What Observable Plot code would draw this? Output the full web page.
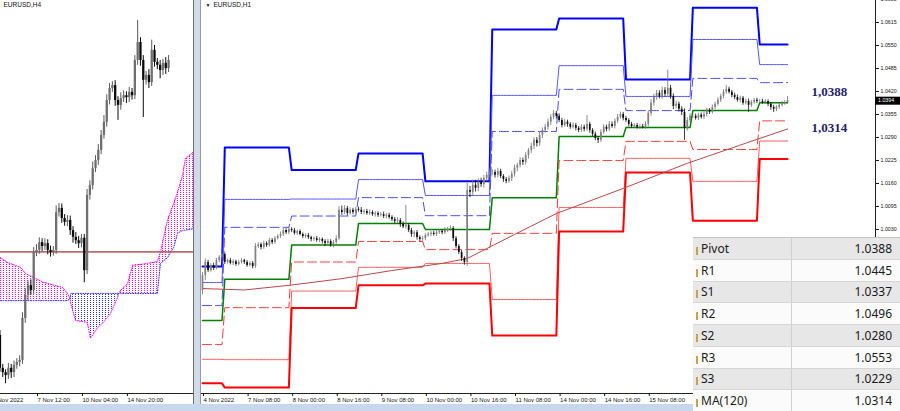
<!DOCTYPE html>
<html><head><meta charset="utf-8">
<script src="https://cdn.jsdelivr.net/npm/d3@7"></script>
<script src="https://cdn.jsdelivr.net/npm/@observablehq/plot@0.6"></script>
<style>
html,body{margin:0;padding:0;background:#fff;}
#wrap{position:relative;width:900px;height:411px;overflow:hidden;background:#fff;}
#left{position:absolute;left:0;top:0;width:193px;height:411px;overflow:hidden;}
#right{position:absolute;left:200px;top:0;width:700px;height:411px;overflow:hidden;}
#sep{position:absolute;left:193px;top:0;width:8px;height:411px;background:#cfdbe9;border-left:1px solid #707070;border-right:1px solid #9a9a9a;box-sizing:border-box;}
#strip{position:absolute;left:0;top:404px;width:900px;height:7px;background:#c6d7ee;}
#tbl{position:absolute;left:693px;top:237px;width:207px;height:174px;background:#fff;border-top:1px solid #c4c4c4;font-family:"Noto Sans","Open Sans",sans-serif;font-size:12px;color:#1a1a1a;}
.row{position:absolute;left:0;width:207px;height:21.75px;box-sizing:border-box;border-bottom:1px solid #d6d6d6;display:flex;align-items:center;}
.row .n{width:99px;height:100%;box-sizing:border-box;border-right:1px solid #d0d0d0;display:flex;align-items:center;padding-left:3px;}
.row .v{flex:1;text-align:right;padding-right:8px;}
.mk{display:inline-block;width:2px;height:8px;background:#c9a24a;margin-right:3px;margin-top:5px;}
svg{display:block;}
</style>
</head><body>
<div id="wrap">
  <div id="left"></div>
  <div id="right"></div>
  <div id="sep"></div>
  <div id="strip"></div>
  <div id="tbl"></div>
</div>
<script>
// ================= RIGHT PANEL (EURUSD H1) =================
// first bar of each trading day (bar index)
const dayStart = [0, 8, 32, 56, 80, 104, 128, 152, 176, 200];
// daily pivot levels per day
const R3 = [0.9925, 1.0262, 1.0198, 1.0245, 1.0166, 1.0595, 1.0626, 1.0454, 1.0657, 1.0553];
const R2 = [0.9880, 1.0115, 1.0116, 1.0171, 1.0126, 1.0409, 1.0493, 1.0406, 1.0567, 1.0496];
const R1 = [0.9815, 1.0036, 1.0068, 1.0120, 1.0069, 1.0307, 1.0426, 1.0366, 1.0457, 1.0445];
const PV = [0.9773, 0.9889, 0.9986, 1.0047, 1.0030, 1.0120, 1.0293, 1.0318, 1.0366, 1.0388];
const S1 = [0.9705, 0.9809, 0.9938, 0.9996, 0.9973, 1.0019, 1.0225, 1.0279, 1.0256, 1.0337];
const S2 = [0.9663, 0.9662, 0.9856, 0.9923, 0.9934, 0.9832, 1.0092, 1.0231, 1.0166, 1.0280];
const S3 = [0.9595, 0.9583, 0.9808, 0.9872, 0.9877, 0.9730, 1.0024, 1.0191, 1.0055, 1.0229];

const firstOpen = 0.9857;
const closeH1 = [
0.9900,0.9937,0.9914,0.9928,0.9920,0.9942,0.9951,0.9959,
0.9937,0.9942,0.9934,0.9939,0.9931,0.9937,0.9942,0.9937,0.9928,0.9934,0.9925,0.9982,0.9987,0.9979,0.9990,0.9985,0.9999,0.9993,1.0004,1.0010,1.0016,1.0027,1.0021,1.0030,
1.0027,1.0019,1.0024,1.0016,1.0010,1.0013,1.0007,1.0002,1.0004,0.9999,1.0002,0.9996,0.9990,0.9996,0.9987,0.9993,1.0004,1.0084,1.0078,1.0089,1.0075,1.0084,1.0078,1.0087,
1.0084,1.0078,1.0081,1.0075,1.0078,1.0072,1.0075,1.0070,1.0072,1.0067,1.0070,1.0064,1.0058,1.0053,1.0055,1.0044,1.0038,1.0041,1.0027,1.0016,1.0021,1.0007,1.0002,1.0004,
1.0013,1.0016,1.0019,1.0016,1.0021,1.0024,1.0021,1.0027,1.0030,1.0033,1.0004,0.9982,0.9965,0.9948,0.9937,1.0140,1.0135,1.0155,1.0146,1.0163,1.0157,1.0174,1.0183,1.0191,
1.0191,1.0183,1.0194,1.0180,1.0171,1.0166,1.0174,1.0186,1.0203,1.0211,1.0225,1.0220,1.0239,1.0253,1.0265,1.0282,1.0273,1.0296,1.0310,1.0319,1.0333,1.0347,1.0358,1.0350,
1.0338,1.0324,1.0333,1.0327,1.0319,1.0324,1.0316,1.0310,1.0319,1.0313,1.0327,1.0310,1.0299,1.0287,1.0282,1.0304,1.0319,1.0313,1.0327,1.0321,1.0336,1.0347,1.0355,1.0344,
1.0338,1.0327,1.0321,1.0324,1.0319,1.0321,1.0319,1.0327,1.0358,1.0387,1.0403,1.0415,1.0406,1.0423,1.0412,1.0429,1.0406,1.0378,1.0384,1.0370,1.0361,1.0316,1.0338,1.0350,
1.0350,1.0344,1.0353,1.0347,1.0355,1.0367,1.0361,1.0375,1.0384,1.0395,1.0406,1.0418,1.0426,1.0418,1.0409,1.0403,1.0395,1.0401,1.0387,1.0392,1.0381,1.0389,1.0395,1.0392,
1.0392,1.0389,1.0392,1.0384,1.0375,1.0370,1.0375,1.0381,1.0387,1.0389,1.0394
];
// wick lengths in pips above / below the body
const wickUpH1 = [
8,10,6,5,7,6,5,4,
5,4,6,5,4,5,6,4,5,4,5,8,6,5,7,5,6,5,6,5,7,6,5,6,
5,6,4,5,4,5,6,4,5,6,5,4,5,6,5,6,8,10,12,8,6,7,6,5,
6,8,5,6,7,5,6,5,6,7,5,6,5,6,8,6,7,57,5,6,5,6,5,6,
5,6,5,6,7,6,5,8,6,7,5,6,5,6,5,20,12,15,14,10,12,9,8,10,
8,7,9,6,5,6,7,8,9,6,8,7,8,6,9,7,8,10,7,8,9,7,8,6,
7,6,8,6,5,7,6,5,7,6,25,6,5,6,5,8,7,6,8,7,6,8,7,6,
6,5,6,5,6,5,6,7,8,10,9,8,7,9,8,51,8,7,8,6,7,10,8,7,
5,6,5,6,7,6,5,7,6,7,6,7,11,6,5,6,7,6,5,6,7,6,5,6,
5,6,5,4,5,6,5,6,5,6,12
];
const wickDnH1 = [
12,15,6,5,6,4,6,5,
6,5,4,6,5,4,5,6,5,4,6,5,6,7,5,6,5,6,5,4,5,6,5,6,
6,5,6,4,5,6,5,7,6,5,6,7,8,6,7,9,5,6,8,6,7,5,6,5,
5,6,7,5,6,5,7,6,5,6,7,5,6,7,6,8,6,7,6,8,9,7,8,6,
6,5,6,5,6,5,6,5,6,5,8,7,6,9,8,11,15,12,10,9,8,10,7,8,
9,8,7,6,8,7,6,9,8,10,7,9,8,10,8,9,10,8,9,7,8,9,7,8,
6,7,5,8,6,5,7,6,5,7,6,8,7,6,9,6,5,7,6,5,7,6,5,7,
6,7,5,6,5,6,5,6,7,8,9,8,7,8,7,9,8,9,7,8,9,34,8,7,
6,5,6,5,6,7,6,5,6,5,6,7,6,5,7,6,5,7,6,5,20,6,5,6,
6,5,6,7,8,9,7,6,5,6,5
];
// MA(120) readings
const maIdx = [0, 15, 32, 50, 68, 86, 95, 112, 127, 151, 174, 198, 210];
const maVal = [0.9863, 0.9859, 0.9873, 0.9891, 0.9914, 0.9934, 0.9948, 1.0016, 1.0075, 1.0146, 1.0217, 1.0282, 1.0314];

// price-scale labels visible above the table
const yTicksH1 = [1.0680,1.0615,1.0550,1.0485,1.0420,1.0355,1.0290,1.0225,1.0160,1.0095,1.0030];
// time labels visible left of the table
const xTicksH1 = [0,16,32,48,64,80,96,112,128,144,160];
const xTickLabelsH1 = ["4 Nov 2022","7 Nov 08:00","8 Nov 00:00","8 Nov 16:00","9 Nov 08:00","10 Nov 00:00","10 Nov 16:00","11 Nov 08:00","14 Nov 00:00","14 Nov 16:00","15 Nov 08:00"];
const lastPrice = 1.0394;
const bigLabels = ["1,0388", "1,0314"];
const bigValues = [1.0388, 1.0314];

const tableNames = ["Pivot","R1","S1","R2","S2","R3","S3","MA(120)"];
const tableValues = [1.0388,1.0445,1.0337,1.0496,1.0280,1.0553,1.0229,1.0314];

// ================= LEFT PANEL (EURUSD H4) =================
const h4First = -13;          // bar index of the first H4 bar (0 = 7 Nov 12:00)
const h4FirstOpen = 0.9829;
const closeH4 = [0.9761,0.9752,0.9746,0.9761,0.9752,0.9767,0.9773,0.9777,0.9864,0.9912,0.9932,0.9922,1.0001,
1.0005,1.0021,1.0013,1.0019,1.0005,1.0001,1.0005,1.0083,1.0092,1.0071,1.0063,1.0067,1.0046,1.0032,1.0025,1.0019,1.0030,
0.9963,1.0119,1.0139,1.0174,1.0191,1.0212,1.0243,1.0270,1.0315,1.0340,1.0346,1.0315,1.0305,1.0319,1.0325,1.0321,1.0332,1.0325,1.0398,1.0435,1.0398,1.0357,1.0367,1.0352,1.0419,1.0394,1.0388,1.0377,1.0392,1.0381,1.0398];
const wickUpH4 = [10,8,6,10,8,9,8,10,12,14,10,12,10, 12,10,8,10,8,9,8,14,10,9,8,10,9,8,10,9,8, 8,12,10,14,10,12,10,14,12,10,8,10,8,12,10,8,10,8,10,46,10,10,8,12,21,10,8,10,8,12,10];
const wickDnH4 = [8,10,17,8,12,10,8,9,8,10,12,10,8, 9,8,10,8,9,10,8,8,9,10,8,9,10,12,8,10,9, 25,8,10,9,8,10,9,8,10,9,8,12,31,10,8,12,10,9,8,10,12,77,10,12,8,10,9,17,10,12,8];
// Ichimoku cloud (Senkou span A / B)
const cloudJ = [-12.8,-10.3,-5.7,-3.9,-1.1,2.5,9.3,11.0,12.0,12.2,13.9,18.1,19.2,21.7,23.8,26.3,28.8,29.3,29.9,32.4,34.2,39.5,43.0,44.1,46.6,48.8,50.2,51.2,52.0,53.0,55.9];
const spanA = [0.9990,0.9980,0.9970,0.9957,0.9949,0.9939,0.9928,0.9916,0.9905,0.9895,0.9860,0.9856,0.9823,0.9845,0.9856,0.9874,0.9907,0.9916,0.9922,0.9936,0.9974,0.9978,0.9982,1.0001,1.0067,1.0102,1.0125,1.0145,1.0160,1.0195,1.0208];
const spanB = [0.9901,0.9901,0.9901,0.9901,0.9901,0.9901,0.9901,0.9901,0.9905,0.9916,0.9916,0.9916,0.9916,0.9916,0.9916,0.9916,0.9916,0.9916,0.9916,0.9916,0.9916,0.9916,0.9916,0.9978,0.9990,1.0011,1.0040,1.0044,1.0046,1.0047,1.0050];
const levelLineH4 = 1.0002;
const xTicksH4 = [-16, 0, 16, 32];
const xTickLabelsH4 = ["2 Nov 2022","7 Nov 12:00","10 Nov 04:00","14 Nov 20:00"];

const FONT = "Liberation Sans, DejaVu Sans, Arial, sans-serif";
const BULL = "#808080", BEAR = "#0a0a0a";

// ---------- build H1 bars ----------
const bars = closeH1.map((c, i) => {
  const o = i ? closeH1[i - 1] : firstOpen;
  return {
    i, open: o, close: c,
    high: Math.max(o, c) + (wickUpH1[i] || 0) * 1e-4,
    low: Math.min(o, c) - (wickDnH1[i] || 0) * 1e-4,
    day: d3.bisectRight(dayStart, i) - 1
  };
});
const maData = maIdx.map((x, k) => ({x, v: maVal[k]}));

const xDomR = [-0.72, 241.56];
const yDomR = [0.956638, 1.067718];
const levels = [
  {v: R3, stroke: "#0000ff", w: 2},
  {v: R2, stroke: "#5656ff", w: 1},
  {v: R1, stroke: "#4a4aff", w: 1, dash: "9,4"},
  {v: S1, stroke: "#ff3a3a", w: 1, dash: "9,4"},
  {v: S2, stroke: "#ff5e5e", w: 1},
  {v: S3, stroke: "#ff0000", w: 2},
  {v: PV, stroke: "#008000", w: 1.5}
];

const rightMarks = [];
for (const L of levels) {
  rightMarks.push(Plot.line(bars, {x: "i", y: d => L.v[d.day], stroke: L.stroke, strokeWidth: L.w, strokeDasharray: L.dash}));
}
rightMarks.push(Plot.line(maData, {x: "x", y: "v", stroke: "#b54a4a", strokeWidth: 1}));
rightMarks.push(Plot.ruleX(bars, {x: "i", y1: "low", y2: "high", stroke: d => d.close >= d.open ? "#6e6e6e" : BEAR, strokeWidth: 0.8}));
rightMarks.push(Plot.ruleX(bars.filter(d => d.close >= d.open), {x: "i", y1: "open", y2: "close", stroke: BULL, strokeWidth: 1.7}));
rightMarks.push(Plot.ruleX(bars.filter(d => d.close < d.open), {x: "i", y1: "open", y2: "close", stroke: BEAR, strokeWidth: 1.7}));
// axes lines
rightMarks.push(Plot.ruleX([xDomR[1]], {stroke: "#222", strokeWidth: 1}));
rightMarks.push(Plot.ruleY([yDomR[0]], {stroke: "#222", strokeWidth: 1}));
rightMarks.push(Plot.axisY({ticks: yTicksH1, anchor: "right", tickSize: 3, tickPadding: 2, tickFormat: d => d.toFixed(4), fontSize: 5.3, label: null}));
rightMarks.push(Plot.axisX({ticks: xTicksH1, anchor: "bottom", tickSize: 3, tickPadding: 1, tickFormat: d => xTickLabelsH1[xTicksH1.indexOf(d)], textAnchor: "start", dx: 1, fontSize: 6, label: null}));
// current price box
rightMarks.push(Plot.ruleY([lastPrice], {x1: xDomR[1], x2: xDomR[1] + 9.2, stroke: "#000", strokeWidth: 8}));
rightMarks.push(Plot.text([lastPrice], {x: xDomR[1], y: d => d, text: d => d.toFixed(4), dx: 2.5, textAnchor: "start", fill: "#fff", fontSize: 5.3}));
// big annotations
rightMarks.push(Plot.text([0], {x: 225, y: () => bigValues[0], text: () => bigLabels[0], dy: -11, fontSize: 13, fontWeight: "bold", fontFamily: "Liberation Serif, DejaVu Serif, serif", fill: "#1f1f6b"}));
rightMarks.push(Plot.text([1], {x: 225, y: () => bigValues[1], text: () => bigLabels[1], dy: -1, fontSize: 13, fontWeight: "bold", fontFamily: "Liberation Serif, DejaVu Serif, serif", fill: "#1f1f6b"}));
// title
rightMarks.push(Plot.text(["▼"], {frameAnchor: "top-left", dx: 5, dy: 2.5, fontSize: 5, fill: "#111"}));
rightMarks.push(Plot.text(["EURUSD,H1"], {frameAnchor: "top-left", dx: 13, dy: 1.5, fontSize: 6.5, fill: "#111"}));

const right = Plot.plot({
  width: 700, height: 411,
  marginLeft: 0, marginRight: 25, marginTop: 0, marginBottom: 18,
  x: {domain: xDomR, axis: null},
  y: {domain: yDomR, axis: null},
  style: {fontFamily: FONT, background: "transparent", color: "#111", overflow: "hidden"},
  marks: rightMarks
});
document.getElementById("right").appendChild(right);

// ---------- LEFT panel ----------
const h4 = closeH4.map((c, k) => {
  const o = k ? closeH4[k - 1] : h4FirstOpen;
  return {j: h4First + k, open: o, close: c,
    high: Math.max(o, c) + (wickUpH4[k] || 0) * 1e-4,
    low: Math.min(o, c) - (wickDnH4[k] || 0) * 1e-4};
});
const cloud = cloudJ.map((j, k) => ({j, A: spanA[k], B: spanB[k]}));
const seg1 = cloud.filter(d => d.j <= 12.0);
const seg2 = cloud.filter(d => d.j >= 12.0 && d.j <= 29.3);
const seg3 = cloud.filter(d => d.j >= 29.3);

const xDomL = [-12.81, 55.87];
const yDomL = [0.97089, 1.0522];

const left = Plot.plot({
  width: 193, height: 411,
  marginLeft: 0, marginRight: 0, marginTop: 0, marginBottom: 18,
  x: {domain: xDomL, axis: null},
  y: {domain: yDomL, axis: null},
  style: {fontFamily: FONT, background: "transparent", color: "#111", overflow: "hidden"},
  marks: [
    Plot.areaY(seg1, {x: "j", y1: "A", y2: "B", fill: "url(#hatchM)"}),
    Plot.areaY(seg3, {x: "j", y1: "A", y2: "B", fill: "url(#hatchM)"}),
    Plot.areaY(seg2, {x: "j", y1: "A", y2: "B", fill: "url(#hatchB)"}),
    Plot.line(cloud, {x: "j", y: "A", stroke: "#ff00ff", strokeWidth: 1, strokeDasharray: "1,1.5"}),
    Plot.line(cloud, {x: "j", y: "B", stroke: "#2a2aff", strokeWidth: 1, strokeDasharray: "1,1.5"}),
    Plot.ruleY([levelLineH4], {stroke: "#b55a5e", strokeWidth: 1.6, strokeOpacity: 0.9}),
    Plot.ruleX(h4, {x: "j", y1: "low", y2: "high", stroke: d => d.close >= d.open ? "#5a5a5a" : BEAR, strokeWidth: 1}),
    Plot.ruleX(h4.filter(d => d.close >= d.open), {x: "j", y1: "open", y2: "close", stroke: "#6f6f6f", strokeWidth: 2.3}),
    Plot.ruleX(h4.filter(d => d.close < d.open), {x: "j", y1: "open", y2: "close", stroke: BEAR, strokeWidth: 2.3}),
    Plot.ruleY([yDomL[0]], {stroke: "#222", strokeWidth: 1}),
    Plot.axisX({ticks: xTicksH4, anchor: "bottom", tickSize: 3, tickPadding: 1, tickFormat: d => xTickLabelsH4[xTicksH4.indexOf(d)], textAnchor: "start", dx: 1, fontSize: 6, label: null}),
    Plot.text(["EURUSD,H4"], {frameAnchor: "top-left", dx: 3, dy: 2, fontSize: 6.5, fill: "#111"})
  ]
});
const ns = "http://www.w3.org/2000/svg";
const defs = document.createElementNS(ns, "defs");
defs.innerHTML =
  '<pattern id="hatchM" patternUnits="userSpaceOnUse" width="3" height="2"><rect width="1" height="1" fill="#ff00ff"/></pattern>' +
  '<pattern id="hatchB" patternUnits="userSpaceOnUse" width="3" height="2"><rect width="1" height="1" fill="#2a2aff"/></pattern>';
left.insertBefore(defs, left.firstChild);
document.getElementById("left").appendChild(left);

// ---------- table ----------
const tbl = document.getElementById("tbl");
tableNames.forEach((n, k) => {
  const r = document.createElement("div");
  r.className = "row";
  r.style.top = (k * 21.75) + "px";
  r.style.background = k % 2 === 0 ? "#e7e7e7" : "#fbfbfb";
  r.innerHTML = '<div class="n"><span class="mk"></span>' + n + '</div><div class="v">' + tableValues[k].toFixed(4) + '</div>';
  tbl.appendChild(r);
});
</script>
</body></html>
